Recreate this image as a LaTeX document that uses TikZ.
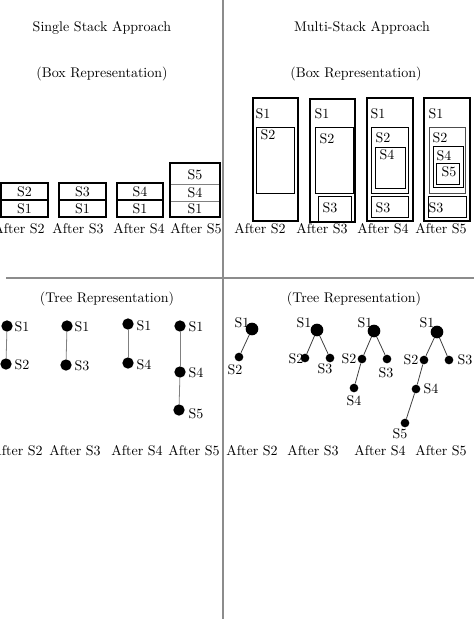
\documentclass[tikz,border=0pt]{standalone}
\usetikzlibrary{fit}
\begin{document}
\begin{tikzpicture}[x=0.75pt,y=-0.75pt,
  every node/.append style={font=\fontsize{10.5}{12}\selectfont},
  txt/.style={inner sep=0pt},
  frame/.style={draw, line width=0.9pt, inner sep=0pt},
  inframe/.style={draw, line width=0.75pt, inner sep=0pt},
  rowframe/.style={draw=gray, line width=0.5pt, inner sep=0pt},
  dot/.style={circle, fill=black, inner sep=0pt, minimum size=8.5pt},
  bigdot/.style={circle, fill=black, inner sep=0pt, minimum size=9.5pt},
  smalldot/.style={circle, fill=black, inner sep=0pt, minimum size=6.5pt},
  ledge/.style={draw=gray, line width=0.6pt},
  redge/.style={draw=black!75, line width=0.6pt},
  divider/.style={draw=black!45, line width=0.8pt}]
\useasboundingbox (0,0) rectangle (474,619);
\clip (0,0) rectangle (474,619);

% dividers
\draw[divider] (223,0) -- (223,619);
\draw[divider] (6,278) -- (474,278);

% titles
\node[txt] (tsingle) at (102,28) {Single Stack Approach};
\node[txt] (tmulti) at (362,28) {Multi-Stack Approach};
\node[txt] (bsingle) at (102,74) {(Box Representation)};
\node[txt] (bmulti) at (356,74) {(Box Representation)};
\node[txt] (trsingle) at (107,299) {(Tree Representation)};
\node[txt] (trmulti) at (354,299) {(Tree Representation)};

% ---------- single stack boxes ----------
\node[frame, fit={(1,183) (48,200)}] (sa2) {};
\node[frame, fit={(1,200) (48,217)}] (sa1) {};
\node[txt] at (sa2.center) (sa2t) {S2};
\node[txt] at (sa1.center) (sa1t) {S1};

\node[frame, fit={(59,183) (106,200)}] (sb3) {};
\node[frame, fit={(59,200) (106,217)}] (sb1) {};
\node[txt] at (sb3.center) (sb3t) {S3};
\node[txt] at (sb1.center) (sb1t) {S1};

\node[frame, fit={(117,183) (163,200)}] (sc4) {};
\node[frame, fit={(117,200) (163,217)}] (sc1) {};
\node[txt] at (sc4.center) (sc4t) {S4};
\node[txt] at (sc1.center) (sc1t) {S1};

\node[rowframe, fit={(170,163) (220,184)}] (sd5) {};
\node[rowframe, fit={(170,184) (220,201)}] (sd4) {};
\node[rowframe, fit={(170,201) (220,217)}] (sd1) {};
\node[frame, fit={(170,163) (220,217)}] (sd) {};
\node[txt] at (195,175) (sd5t) {S5};
\node[txt] at (sd4.center) (sd4t) {S4};
\node[txt] at (sd1.center) (sd1t) {S1};

\node[txt] (la2) at (19,229) {After S2};
\node[txt] (la3) at (78,229) {After S3};
\node[txt] (la4) at (139,229) {After S4};
\node[txt] (la5) at (196,229) {After S5};

% ---------- multi stack boxes ----------
\node[frame, fit={(253,98) (298,221)}] (ma) {};
\node[inframe, fit={(256,127) (294,193)}] (ma2) {};
\node[txt] (ma1t) at (263,114) {S1};
\node[txt] (ma2t) at (268,135) {S2};

\node[frame, fit={(310,99) (355,222)}] (mb) {};
\node[inframe, fit={(315,127) (353,193)}] (mb2) {};
\node[inframe, fit={(318,196) (351,222)}] (mb3) {};
\node[txt] (mb1t) at (322,114) {S1};
\node[txt] (mb2t) at (327,139) {S2};
\node[txt] (mb3t) at (330,208) {S3};

\node[frame, fit={(367,98) (413,221)}] (mc) {};
\node[inframe, fit={(371,127) (408,193)}] (mc2) {};
\node[inframe, fit={(375,147) (405,188)}] (mc4) {};
\node[inframe, fit={(371,196) (408,217)}] (mc3) {};
\node[txt] (mc1t) at (378,114) {S1};
\node[txt] (mc2t) at (383,138) {S2};
\node[txt] (mc4t) at (387,155) {S4};
\node[txt] (mc3t) at (383,208) {S3};

\node[frame, fit={(424,98) (470,221)}] (md) {};
\node[inframe, draw=black!70, fit={(429,127) (465,193)}] (md2) {};
\node[inframe, fit={(433,146) (463,187)}] (md4) {};
\node[inframe, fit={(436,163) (459,184)}] (md5) {};
\node[inframe, fit={(428,196) (466,217)}] (md3) {};
\node[txt] (md1t) at (436,114) {S1};
\node[txt] (md2t) at (440,138) {S2};
\node[txt] (md4t) at (444,156) {S4};
\node[txt] (md5t) at (449,172) {S5};
\node[txt] (md3t) at (436,208) {S3};

\node[txt] (lm2) at (260,229) {After S2};
\node[txt] (lm3) at (322,229) {After S3};
\node[txt] (lm4) at (383,229) {After S4};
\node[txt] (lm5) at (441,229) {After S5};

% ---------- single stack trees ----------
\node[dot] (ta1) at (7,326) {};
\node[dot] (ta2) at (6,364) {};
\node[txt] (ta1t) at (22,327) {S1};
\node[txt] (ta2t) at (22,365) {S2};
\draw[ledge] (ta1) -- (ta2);

\node[dot] (tb1) at (67,326) {};
\node[dot] (tb3) at (66,365) {};
\node[txt] (tb1t) at (82,327) {S1};
\node[txt] (tb3t) at (82,366) {S3};
\draw[ledge] (tb1) -- (tb3);

\node[dot] (tc1) at (128,324) {};
\node[dot] (tc4) at (128,363) {};
\node[txt] (tc1t) at (144,326) {S1};
\node[txt] (tc4t) at (144,365) {S4};
\draw[ledge] (tc1) -- (tc4);

\node[dot] (td1) at (180,326) {};
\node[dot] (td4) at (180,372) {};
\node[dot] (td5) at (179,410) {};
\node[txt] (td1t) at (196,327) {S1};
\node[txt] (td4t) at (196,373) {S4};
\node[txt] (td5t) at (196,414) {S5};
\draw[ledge] (td1) -- (td4);
\draw[ledge] (td4) -- (td5);

\node[txt] (lt2) at (17,451) {After S2};
\node[txt] (lt3) at (75,451) {After S3};
\node[txt] (lt4) at (137,451) {After S4};
\node[txt] (lt5) at (194,451) {After S5};

% ---------- multi stack trees ----------
\node[bigdot] (ua1) at (252,329) {};
\node[smalldot] (ua2) at (239,357) {};
\node[txt] (ua1t) at (242,323) {S1};
\node[txt] (ua2t) at (235,370) {S2};
\draw[redge] (ua1) -- (ua2);

\node[bigdot] (ub1) at (317,330) {};
\node[smalldot] (ub2) at (305,358) {};
\node[smalldot] (ub3) at (330,358) {};
\node[txt] (ub1t) at (304,323) {S1};
\node[txt] (ub2t) at (296,359) {S2};
\node[txt] (ub3t) at (325,369) {S3};
\draw[redge] (ub1) -- (ub2);
\draw[redge] (ub1) -- (ub3);

\node[bigdot] (uc1) at (374,331) {};
\node[smalldot] (uc2) at (362,359) {};
\node[smalldot] (uc3) at (387,359) {};
\node[smalldot] (uc4) at (354,388) {};
\node[txt] (uc1t) at (365,323) {S1};
\node[txt] (uc2t) at (349,359) {S2};
\node[txt] (uc3t) at (386,373) {S3};
\node[txt] (uc4t) at (354,401) {S4};
\draw[redge] (uc1) -- (uc2);
\draw[redge] (uc1) -- (uc3);
\draw[redge] (uc2) -- (uc4);

\node[bigdot] (ud1) at (437,332) {};
\node[smalldot] (ud2) at (424,360) {};
\node[smalldot] (ud3) at (449,360) {};
\node[smalldot] (ud4) at (416,389) {};
\node[smalldot] (ud5) at (405,423) {};
\node[txt] (ud1t) at (427,323) {S1};
\node[txt] (ud2t) at (411,360) {S2};
\node[txt] (ud3t) at (465,360) {S3};
\node[txt] (ud4t) at (431,389) {S4};
\node[txt] (ud5t) at (400,434) {S5};
\draw[redge] (ud1) -- (ud2);
\draw[redge] (ud1) -- (ud3);
\draw[redge] (ud2) -- (ud4);
\draw[redge] (ud4) -- (ud5);

\node[txt] (lu2) at (252,451) {After S2};
\node[txt] (lu3) at (313,451) {After S3};
\node[txt] (lu4) at (380,451) {After S4};
\node[txt] (lu5) at (441,451) {After S5};
\end{tikzpicture}
\end{document}
